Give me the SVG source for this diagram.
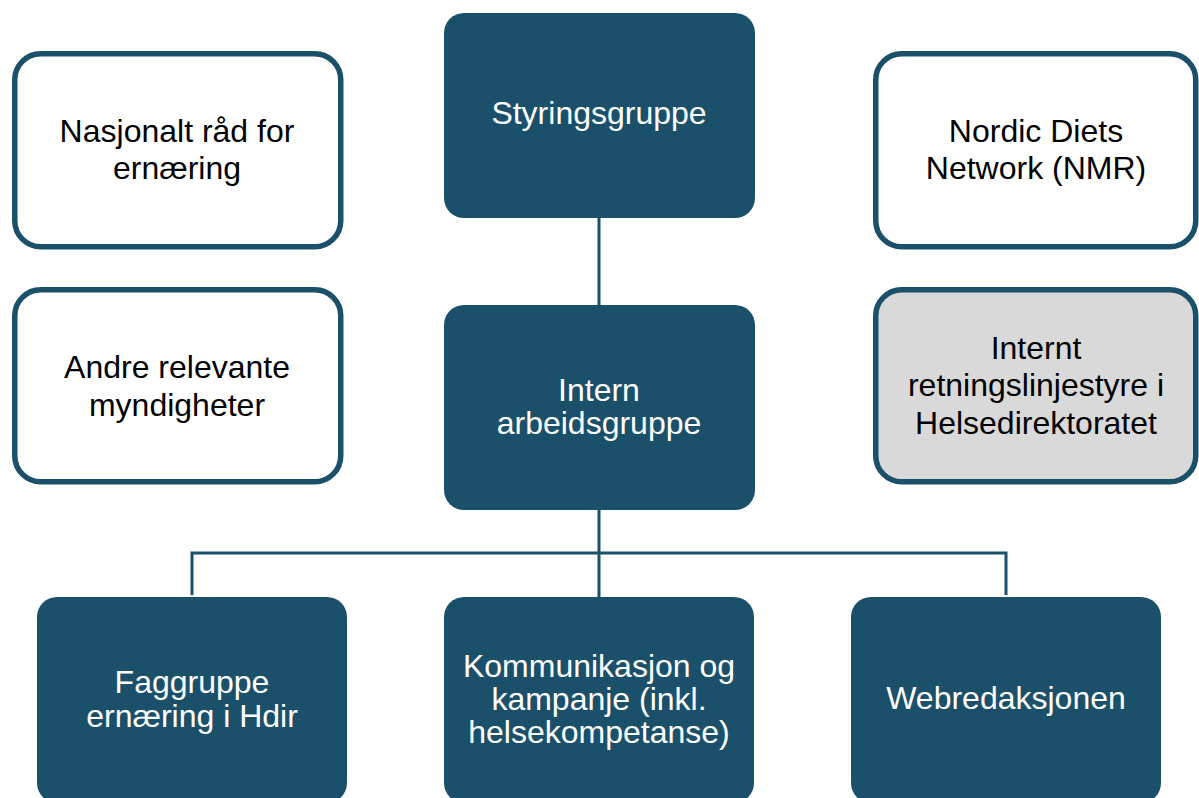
<svg xmlns="http://www.w3.org/2000/svg" width="1199" height="798" viewBox="0 0 1199 798">
  <style>
    .dark { fill: #1b506a; }
    .outline { fill: #ffffff; stroke: #1b506a; stroke-width: 5.5; }
    .gray { fill: #d9d9d9; stroke: #1b506a; stroke-width: 5.5; }
    .conn { fill: none; stroke: #1b506a; stroke-width: 3; }
    text { font-family: "Liberation Sans", Arial, sans-serif; font-size: 32px; text-anchor: middle; }
    .w { fill: #ffffff; }
    .b { fill: #000000; }
  </style>
  <rect width="1199" height="798" fill="#ffffff"/>
  <g id="connectors">
    <line class="conn" x1="599" y1="218" x2="599" y2="305"/>
    <line class="conn" x1="599" y1="510" x2="599" y2="597"/>
    <polyline class="conn" points="192,595 192,553 1006,553 1006,595"/>
  </g>
  <g id="nasjonalt">
    <rect class="outline" x="14.75" y="53.75" width="326" height="193" rx="26"/>
    <text class="b" x="177" y="142">Nasjonalt råd for</text>
    <text class="b" x="177" y="179">ernæring</text>
  </g>
  <g id="andre">
    <rect class="outline" x="14.75" y="289.75" width="326" height="192" rx="26"/>
    <text class="b" x="177" y="378">Andre relevante</text>
    <text class="b" x="177" y="416">myndigheter</text>
  </g>
  <g id="styringsgruppe">
    <rect class="dark" x="444" y="13" width="311" height="205" rx="20"/>
    <text class="w" x="599" y="124">Styringsgruppe</text>
  </g>
  <g id="intern">
    <rect class="dark" x="444" y="305" width="311" height="205" rx="20"/>
    <text class="w" x="599" y="401">Intern</text>
    <text class="w" x="599" y="434">arbeidsgruppe</text>
  </g>
  <g id="nordic">
    <rect class="outline" x="875.75" y="53.75" width="320" height="193" rx="26"/>
    <text class="b" x="1036" y="142">Nordic Diets</text>
    <text class="b" x="1036" y="179">Network (NMR)</text>
  </g>
  <g id="internt">
    <rect class="gray" x="875.75" y="289.75" width="320" height="192" rx="26"/>
    <text class="b" x="1036" y="359">Internt</text>
    <text class="b" x="1036" y="396">retningslinjestyre i</text>
    <text class="b" x="1036" y="434">Helsedirektoratet</text>
  </g>
  <g id="faggruppe">
    <rect class="dark" x="37" y="597" width="310" height="206" rx="20"/>
    <text class="w" x="192" y="693">Faggruppe</text>
    <text class="w" x="192" y="727">ernæring i Hdir</text>
  </g>
  <g id="kommunikasjon">
    <rect class="dark" x="444" y="597" width="310" height="206" rx="20"/>
    <text class="w" x="599" y="677">Kommunikasjon og</text>
    <text class="w" x="599" y="710">kampanje (inkl.</text>
    <text class="w" x="599" y="743">helsekompetanse)</text>
  </g>
  <g id="webredaksjonen">
    <rect class="dark" x="851" y="597" width="310" height="206" rx="20"/>
    <text class="w" x="1006" y="709">Webredaksjonen</text>
  </g>
</svg>
